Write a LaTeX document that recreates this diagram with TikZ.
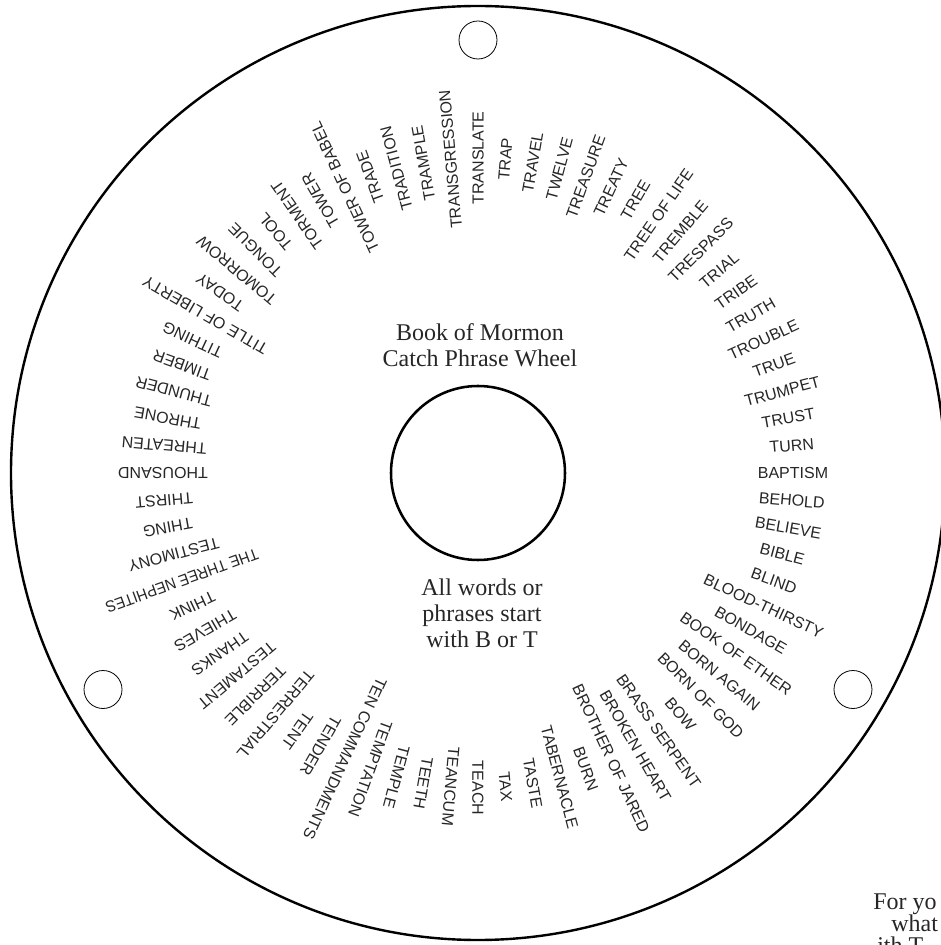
\documentclass[tikz,border=0pt]{standalone}
\usepackage{fontspec}
\setmainfont{Liberation Serif}
\setsansfont{Liberation Sans}
\usetikzlibrary{positioning}
\tikzset{
  wheelrim/.style={draw=black, line width=1.8pt},
  axlehole/.style={draw=black, line width=1.9pt},
  pinhole/.style={draw=black, line width=0.6pt},
  wordlabel/.style={
    font=\sffamily\fontsize{12}{14}\selectfont,
    text=black!85,
    inner sep=0pt
  },
  centertext/.style={
    font=\fontsize{18}{19.6}\selectfont,
    text=black!85,
    align=center,
    inner sep=0pt
  }
}

\begin{document}
\begin{tikzpicture}[x=0.75pt,y=0.75pt]
  \useasboundingbox (-478,-472) rectangle (462,473);
  \coordinate (hub) at (0,0);

  % wheel, axle and pin holes
  \draw[wheelrim] (hub) circle[radius=467];
  \draw[axlehole] (hub) circle[radius=87];
  \foreach \a in {90,210,330}
    \draw[pinhole] (\a:433) circle[radius=19];

  % words round the wheel, 5 degrees apart
  \foreach \w [count=\i, evaluate=\i as \ang using 5-5*\i] in {BAPTISM, BEHOLD, BELIEVE, BIBLE, BLIND, BLOOD-THIRSTY, BONDAGE, BOOK OF ETHER, BORN AGAIN, BORN OF GOD, BOW, BRASS SERPENT, BROKEN HEART, BROTHER OF JARED, BURN, TABERNACLE, TASTE, TAX, TEACH, TEANCUM, TEETH, TEMPLE, TEMPTATION, TEN COMMANDMENTS, TENDER, TENT, TERRESTRIAL, TERRIBLE, TESTAMENT, THANKS, THIEVES, THINK, {\scalebox{0.92}[1]{THE THREE NEPHITES}}, TESTIMONY, THING, THIRST, THOUSAND, THREATEN, THRONE, THUNDER, TIMBER, TITHING, TITLE OF LIBERTY, TODAY, TOMORROW, TONGUE, TOOL, TORMENT, TOWER, TOWER OF BABEL, TRADE, TRADITION, TRAMPLE, TRANSGRESSION, TRANSLATE, TRAP, TRAVEL, TWELVE, TREASURE, TREATY, TREE, TREE OF LIFE, TREMBLE, TRESPASS, TRIAL, TRIBE, TRUTH, TROUBLE, TRUE, TRUMPET, TRUST, TURN}
    \node[wordlabel, rotate=\ang] (word\i) at (\ang:315) {\w};

  \node[centertext] (title) at (2,128) {Book of Mormon\\Catch Phrase Wheel};
  \node[centertext] (rule) at (4,-140) {All words or\\phrases start\\with B or T};

  % cut-off note at the page corner
  \node[font=\fontsize{18}{16.5}\selectfont, text=black!85, align=left, anchor=base west, inner sep=0pt] (note) at (395,-480) {For yo\\\hspace*{13.5pt}what\\\hspace*{3pt}ith T};
\end{tikzpicture}
\end{document}
